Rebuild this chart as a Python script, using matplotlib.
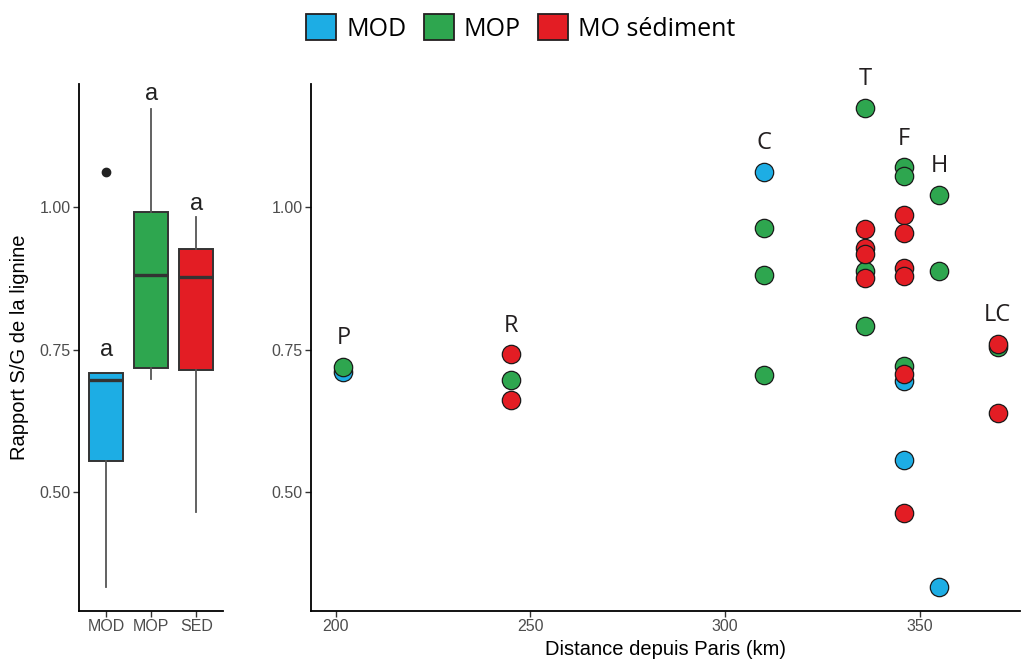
"""
Rapport S/G de la lignine : boxplots par type de MO + valeurs par site
"""

import matplotlib
matplotlib.use("Agg")
from matplotlib import pyplot as plt
from matplotlib.patches import Patch


# Couleurs
col_mod = "#1DADE4"
col_mop = "#2EA64F"
col_sed = "#E31D24"

# MOD
mod_dist = [202, 310, 346, 346, 355]
mod_val = [0.711, 1.062, 0.695, 0.556, 0.334]

# MOP
mop_dist = [202, 245, 310, 310, 310, 336, 336, 336, 346, 346, 346, 355, 355, 370]
mop_val = [0.720, 0.697, 0.963, 0.881, 0.705, 1.174, 0.887, 0.792,
           1.070, 1.054, 0.721, 1.022, 0.887, 0.754]

# MO sediment
sed_dist = [245, 245, 336, 336, 336, 336, 346, 346, 346, 346, 346, 346, 370, 370]
sed_val = [0.742, 0.661, 0.961, 0.929, 0.917, 0.875, 0.986, 0.955,
           0.894, 0.879, 0.708, 0.464, 0.760, 0.638]

# Sites
sites = ["P", "R", "C", "T", "F", "H", "LC"]
site_dist = [202, 245, 310, 336, 346, 355, 370]

# Boxplots
box_names = ["MOD", "MOP", "SED"]
box_whislo = [0.334, 0.698, 0.465]
box_q1 = [0.555, 0.717, 0.715]
box_med = [0.696, 0.881, 0.877]
box_q3 = [0.709, 0.992, 0.926]
box_whishi = [0.709, 1.173, 0.983]
box_fliers = [[1.062], [], []]
box_letters = ["a", "a", "a"]
letter_y = [0.750, 1.199, 1.005]

ylim = (0.2918, 1.2158)

fig = plt.figure(figsize=(10.21, 6.64), dpi=100)
ax1 = fig.add_axes([0.0777, 0.0803, 0.141, 0.793])
ax2 = fig.add_axes([0.3046, 0.0803, 0.6944, 0.793])

for ax in (ax1, ax2):
    for s in ("top", "right"):
        ax.spines[s].set_visible(False)
    for s in ("left", "bottom"):
        ax.spines[s].set_linewidth(1.3)
        ax.spines[s].set_color("black")
    ax.tick_params(length=4, width=1, color="#333333", labelcolor="#4D4D4D",
                   labelsize=11.5, pad=2)
    ax.set_ylim(*ylim)
    ax.set_yticks([0.50, 0.75, 1.00])
    ax.set_yticklabels(["0.50", "0.75", "1.00"], family="Liberation Sans")

# --- boxplots
stats = []
for i in range(3):
    stats.append(dict(whislo=box_whislo[i], q1=box_q1[i], med=box_med[i],
                      q3=box_q3[i], whishi=box_whishi[i], fliers=box_fliers[i],
                      label=box_names[i]))
bp = ax1.bxp(stats, positions=[1, 2, 3], widths=0.75, patch_artist=True,
             showcaps=False,
             boxprops=dict(edgecolor="#333333", linewidth=1.4),
             medianprops=dict(color="#333333", linewidth=2.4),
             whiskerprops=dict(color="#555555", linewidth=1.3),
             flierprops=dict(marker="o", markersize=6, markerfacecolor="#222222",
                             markeredgecolor="#222222"))
for patch, c in zip(bp["boxes"], [col_mod, col_mop, col_sed]):
    patch.set_facecolor(c)
ax1.set_xlim(0.4, 3.6)
ax1.set_xticks([1, 2, 3])
ax1.set_xticklabels(box_names, family="Liberation Sans")
for i, t in enumerate(box_letters):
    ax1.text(i + 1, letter_y[i], t, ha="center", va="center", fontsize=17,
             family="Liberation Sans", color="#222222")
ax1.set_ylabel("Rapport S/G de la lignine", fontsize=14.5,
               family="Liberation Sans", labelpad=8)

# --- points par site
for d, v, c in [(mod_dist, mod_val, col_mod), (mop_dist, mop_val, col_mop),
                (sed_dist, sed_val, col_sed)]:
    ax2.scatter(d, v, s=175, c=c, edgecolors="#1a1a1a", linewidths=0.9,
                zorder=3, clip_on=False)

all_dist = mod_dist + mop_dist + sed_dist
all_val = mod_val + mop_val + sed_val
for name, d in zip(sites, site_dist):
    top = max(v for dd, v in zip(all_dist, all_val) if dd == d)
    ax2.text(d, top + 0.05, name, ha="center", va="center", fontsize=17,
             family="Open Sans", color="#231F20")

ax2.set_xlim(193.7, 375.7)
ax2.set_xticks([200, 250, 300, 350])
ax2.set_xticklabels(["200", "250", "300", "350"], family="Liberation Sans")
ax2.set_xlabel("Distance depuis Paris (km)", fontsize=14.5,
               family="Liberation Sans", labelpad=4)

# --- legende
handles = [Patch(facecolor=col_mod, edgecolor="#231F20", linewidth=1.3, label="MOD"),
           Patch(facecolor=col_mop, edgecolor="#231F20", linewidth=1.3, label="MOP"),
           Patch(facecolor=col_sed, edgecolor="#231F20", linewidth=1.3, label="MO sédiment")]
fig.legend(handles=handles, loc="center", bbox_to_anchor=(0.51, 0.958), ncol=3,
           frameon=False, prop=dict(family="Open Sans", size=18),
           handlelength=1.2, handleheight=1.2, handletextpad=0.4,
           columnspacing=0.7, borderpad=0)

fig.savefig("out.png", dpi=100)
plt.close()
